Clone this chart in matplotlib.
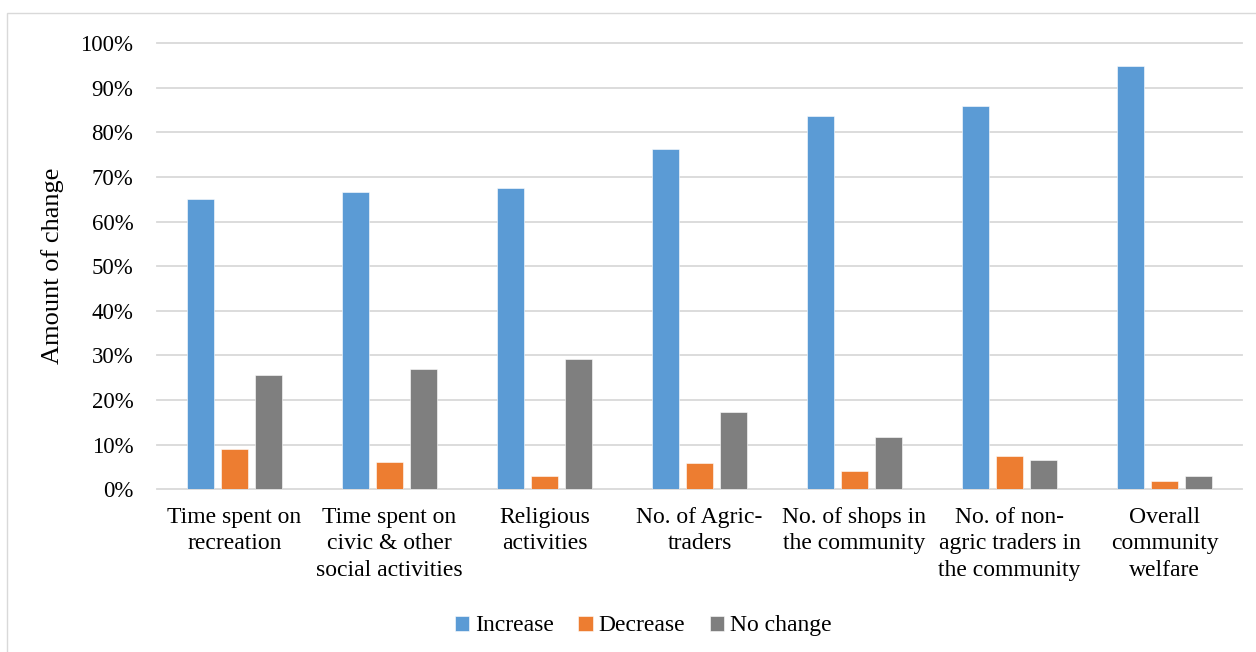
import numpy as np
import matplotlib.pyplot as plt
from matplotlib.patches import Rectangle

# categories and shares (fractions)
categorias = ['Time spent on\nrecreation', 'Time spent on\ncivic & other\nsocial activities',
              'Religious\nactivities', 'No. of Agric-\ntraders', 'No. of shops in\nthe community',
              'No. of non-\nagric traders in\nthe community', 'Overall\ncommunity\nwelfare']
aumento = [0.650, 0.667, 0.675, 0.762, 0.836, 0.858, 0.949]
disminucion = [0.091, 0.061, 0.030, 0.060, 0.042, 0.074, 0.018]
sin_cambio = [0.257, 0.270, 0.291, 0.174, 0.117, 0.065, 0.030]
series = ['Increase', 'Decrease', 'No change']
colores = ['#5B9BD5', '#ED7D31', '#7F7F7F']

plt.rcParams['font.family'] = ['Liberation Serif', 'DejaVu Serif']

fig = plt.figure(figsize=(12.56, 6.52), dpi=100)
# marco gris del area del grafico
fig.patches.append(Rectangle((7 / 1256, -0.1), 1.2, 1 - 13 / 652 + 0.1,
                             transform=fig.transFigure, fill=False,
                             edgecolor='#d9d9d9', linewidth=1))

ax = fig.add_axes([157 / 1256, 1 - 489.3 / 652, 1085 / 1256, (489.3 - 43) / 652])

x = np.arange(len(categorias))
ancho = 0.174
paso = 0.22
for i, (vals, nombre, c) in enumerate(zip([aumento, disminucion, sin_cambio], series, colores)):
    ax.bar(x + (i - 1) * paso, vals, ancho, color=c, label=nombre,
           edgecolor='white', linewidth=0.4, zorder=3)

ax.set_xlim(-0.5, len(categorias) - 0.5)
ax.set_ylim(0, 1.0)
ax.set_yticks(np.arange(0, 1.01, 0.1))
ax.set_yticklabels([f'{int(round(v * 100))}%' for v in np.arange(0, 1.01, 0.1)])
ax.grid(axis='y', color='#d9d9d9', linewidth=1.3, zorder=0)
for s in ax.spines.values():
    s.set_visible(False)
for yl in ax.get_ygridlines():
    yl.set_clip_on(False)

ax.set_xticks(x)
ax.set_xticklabels(categorias, linespacing=1.32)
ax.tick_params(axis='y', length=0, pad=17, labelsize=16.5)
ax.tick_params(axis='x', length=0, pad=13, labelsize=17)
ax.set_ylabel('Amount of change', fontsize=19, labelpad=12)

fig.legend(loc='center', bbox_to_anchor=(0.512, 0.04), ncol=3, frameon=False,
           fontsize=17, handlelength=0.6, handleheight=0.6, handletextpad=0.25,
           columnspacing=1.05)

fig.savefig('out.png', dpi=100)
